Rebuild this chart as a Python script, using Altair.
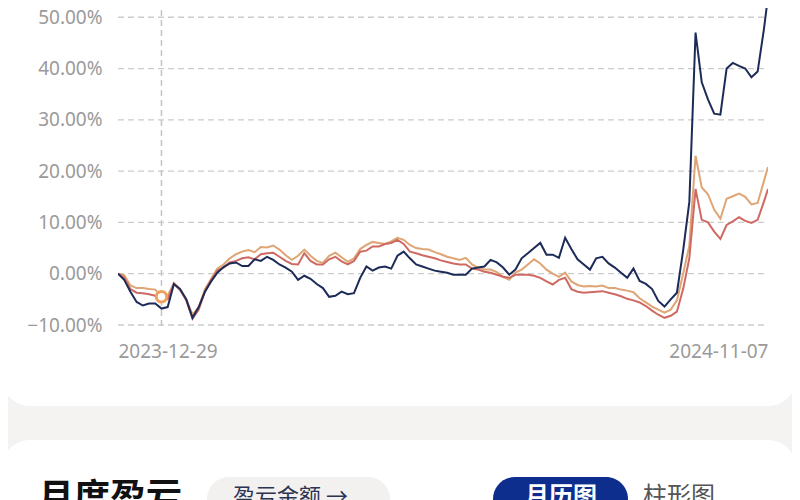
import altair as alt
import pandas as pd

START = "2023-12-29"
END = "2024-11-07"
dates = list(pd.date_range(START, periods=105, freq="3D").strftime("%Y-%m-%d")) + [END]

navy = [0, -1.2, -3.5, -5.5, -6.2, -5.8, -5.8, -6.8, -6.5, -2.0,
        -3.0, -5.0, -8.6, -6.5, -3.5, -1.5, 0.2, 1.3, 2.0, 2.2,
        1.5, 1.5, 2.8, 2.5, 3.3, 2.7, 1.8, 1.2, 0.4, -1.2,
        -0.4, -1.0, -2.0, -2.8, -4.5, -4.3, -3.5, -4.0, -3.8, -0.8,
        1.4, 0.6, 1.2, 1.4, 1.0, 3.5, 4.3, 3.0, 1.8, 1.4,
        1.0, 0.6, 0.4, 0.2, -0.2, -0.2, -0.2, 1.0, 1.2, 1.4,
        2.7, 2.2, 1.2, -0.2, 0.8, 3.0, 4.0, 5.0, 6.0, 3.7,
        3.7, 3.1, 7.0, 4.8, 2.8, 1.8, 0.8, 3.0, 3.3, 2.0,
        1.2, 0.2, -0.8, 1.0, -1.4, -2.0, -3.0, -5.3, -6.4, -5.0,
        -3.7, 4.5, 14.0, 47.0, 37.3, 34.0, 31.2, 31.0, 40.0, 41.1,
        40.5, 40.0, 38.3, 39.4, 47.6, 54.0]

tan = [0, -0.3, -2.3, -2.8, -2.8, -3.0, -3.1, -4.5, -4.3, -1.8,
       -3.0, -5.0, -8.0, -6.5, -3.0, -1.0, 1.0, 1.8, 3.0, 3.8,
       4.3, 4.6, 4.2, 5.2, 5.1, 5.5, 4.7, 3.6, 2.7, 3.5,
       4.7, 3.5, 2.5, 2.1, 3.5, 4.1, 3.2, 2.3, 3.0, 4.8,
       5.6, 6.2, 6.0, 5.8, 6.3, 7.0, 6.6, 5.6, 5.0, 4.8,
       4.7, 4.2, 3.8, 3.3, 3.0, 2.7, 3.1, 1.8, 1.2, 0.8,
       0.8, 0.3, -0.6, -1.2, 0.2, 0.8, 1.8, 2.8, 2.0, 0.8,
       0.0, -0.6, 0.2, -1.5, -2.2, -2.5, -2.4, -2.5, -2.3, -2.8,
       -2.8, -3.1, -3.3, -3.6, -4.8, -5.6, -6.4, -7.0, -7.6, -7.0,
       -5.2, 0.0, 5.5, 23.0, 16.8, 15.5, 12.5, 10.7, 14.6, 15.1,
       15.6, 15.0, 13.5, 13.8, 18.0, 20.8]

red = [0, -0.8, -3.0, -3.7, -3.8, -4.0, -4.3, -5.0, -5.0, -2.0,
       -3.2, -5.2, -8.8, -7.0, -3.5, -1.2, 0.6, 1.2, 2.2, 2.5,
       3.0, 3.2, 2.8, 3.8, 4.0, 4.1, 3.3, 2.5, 1.9, 1.8,
       4.0, 2.5, 1.8, 1.8, 2.8, 3.3, 2.4, 1.8, 2.5, 4.3,
       4.5, 5.3, 5.3, 5.8, 6.0, 6.6, 5.8, 4.3, 4.0, 3.6,
       3.3, 3.0, 2.6, 2.3, 2.0, 1.8, 1.8, 1.0, 0.8, 0.4,
       0.2, -0.2, -0.6, -0.8, -0.2, -0.2, -0.2, -0.4, -0.8, -1.5,
       -2.1, -1.2, -0.8, -3.0, -3.5, -3.7, -3.6, -3.5, -3.4, -3.7,
       -4.0, -4.4, -4.9, -5.2, -5.6, -6.3, -7.2, -8.0, -8.6, -8.2,
       -7.4, -3.0, 3.0, 16.5, 10.5, 10.0, 8.2, 6.8, 9.5, 10.2,
       11.0, 10.3, 9.9, 10.5, 14.0, 16.5]

y_ticks = [-10, 0, 10, 20, 30, 40, 50]
cross_date = ["2024-01-19"]
cross_value = [-4.5]

W, H = 650, 317
FONT = "Noto Sans"
CJK = "Noto Sans CJK SC"

df_n = pd.DataFrame({"date": dates, "value": navy})
df_t = pd.DataFrame({"date": dates, "value": tan})
df_r = pd.DataFrame({"date": dates, "value": red})
df_c = pd.DataFrame({"date": cross_date, "value": cross_value})
df_g = pd.DataFrame({"value": y_ticks})
one = pd.DataFrame({"k": [0]})

D0 = alt.DateTime(year=2023, month=12, date=29, utc=True)
D1 = alt.DateTime(year=2024, month=11, date=7, utc=True)
xscale = alt.Scale(type="utc", domain=[D0, D1])
yscale = alt.Scale(domain=[-10, 51.8], nice=False, zero=False)

x_axis = alt.Axis(values=[D0, D1],
                  labelExpr="utcFormat(datum.value, '%Y-%m-%d')",
                  labelFlush=True,
                  grid=False, domain=False, ticks=False, labelPadding=17,
                  labelFontSize=19, labelFont=FONT, labelColor="#9a9a9a",
                  title=None, zindex=1)
y_axis = alt.Axis(values=y_ticks, labelExpr="format(datum.value,'.2f')+'%'",
                  grid=False, domain=False, ticks=False, labelPadding=16,
                  labelFontSize=19, labelFont=FONT, labelColor="#9a9a9a",
                  title=None, zindex=1)
x_enc = alt.X("date:T", scale=xscale, axis=x_axis)
y_enc = alt.Y("value:Q", scale=yscale, axis=y_axis)

# decorative background cards
card1 = alt.Chart(one).mark_rect(color="white", cornerRadius=28).encode(
    x=alt.value(-116), x2=alt.value(678), y=alt.value(-40), y2=alt.value(398))
card2 = alt.Chart(one).mark_rect(color="white", cornerRadius=28).encode(
    x=alt.value(-116), x2=alt.value(678), y=alt.value(432), y2=alt.value(560))
pill1 = alt.Chart(one).mark_rect(color="#f3f0f0", cornerRadius=22).encode(
    x=alt.value(89), x2=alt.value(272), y=alt.value(469), y2=alt.value(560))
pill2 = alt.Chart(one).mark_rect(color="#0d2e8c", cornerRadius=22).encode(
    x=alt.value(375), x2=alt.value(510), y=alt.value(469), y2=alt.value(560))
t1 = alt.Chart(one).mark_text(font=CJK, fontSize=36, fontWeight="bold", align="left",
                              baseline="top", color="#111111").encode(
    x=alt.value(-80), y=alt.value(474), text=alt.value("月度盈亏"))
t2 = alt.Chart(one).mark_text(font=CJK, fontSize=22, align="left", baseline="top",
                              color="#2a3452").encode(
    x=alt.value(115), y=alt.value(479), text=alt.value("盈亏金额 →"))
t3 = alt.Chart(one).mark_text(font=CJK, fontSize=24, fontWeight="bold", align="center",
                              baseline="top", color="white").encode(
    x=alt.value(443), y=alt.value(477), text=alt.value("月历图"))
t4 = alt.Chart(one).mark_text(font=CJK, fontSize=24, align="left", baseline="top",
                              color="#555555").encode(
    x=alt.value(525), y=alt.value(477), text=alt.value("柱形图"))

grid = alt.Chart(df_g).mark_rule(color="#cccccc", strokeWidth=1.3, strokeDash=[6, 4]).encode(
    y=y_enc, x=alt.value(0), x2=alt.value(W))
cross = alt.Chart(df_c).mark_rule(color="#c4c4c4", strokeWidth=1.5, strokeDash=[6, 4]).encode(
    x=x_enc, y=alt.value(-8), y2=alt.value(H + 4))

l_tan = alt.Chart(df_t).mark_line(color="#dfa574", strokeWidth=2, clip=True).encode(
    x=x_enc, y=y_enc)
l_red = alt.Chart(df_r).mark_line(color="#cf6a63", strokeWidth=2, clip=True).encode(
    x=x_enc, y=y_enc)
l_navy = alt.Chart(df_n).mark_line(color="#1c2b57", strokeWidth=2, clip=True).encode(
    x=x_enc, y=y_enc)
marker = alt.Chart(df_c).mark_point(shape="circle", size=110, filled=True, fill="white",
                                    stroke="#f0a05c", strokeWidth=3, opacity=1).encode(
    x=x_enc, y=y_enc)

chart = alt.layer(card1, card2, pill1, pill2, t1, t2, t3, t4, grid, cross,
                  l_tan, l_red, l_navy, marker).properties(
    width=W, height=H,
    autosize=alt.AutoSizeParams(type="none"),
    padding={"left": 110, "top": 0, "right": 24, "bottom": 175},
    background="#f5f2f2",
).configure_view(stroke=None)

chart.save("out.html", embed_options={"renderer": "svg", "actions": False})
